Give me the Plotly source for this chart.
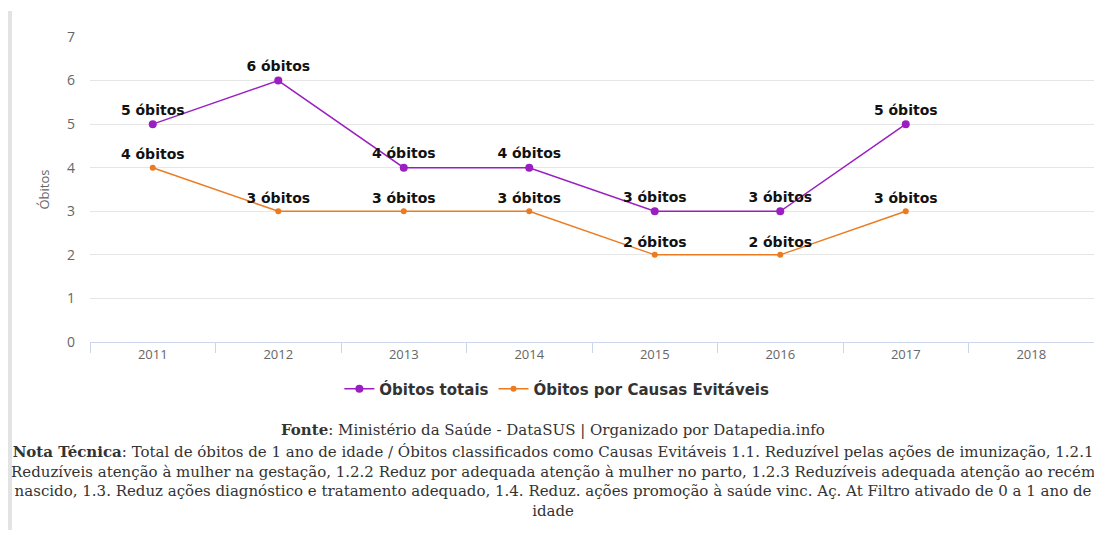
import plotly.graph_objects as go

years = ["2011", "2012", "2013", "2014", "2015", "2016", "2017", "2018"]
obitos_totais = [5, 6, 4, 4, 3, 3, 5, None]
obitos_evitaveis = [4, 3, 3, 3, 2, 2, 3, None]
y_ticks = [0, 1, 2, 3, 4, 5, 6, 7]

purple = "#9b1fc0"
orange = "#ec7a1f"

def labels(vals):
    return [f"{v} óbitos" if v is not None else "" for v in vals]

lab_font = dict(family="DejaVu Sans", size=14, color="#111", weight="bold")

fig = go.Figure()
fig.add_trace(go.Scatter(
    x=years, y=obitos_totais, name="Óbitos totais", mode="lines+markers+text",
    line=dict(color=purple, width=1.5), marker=dict(color=purple, size=8),
    text=labels(obitos_totais), textposition="top center", textfont=lab_font,
    cliponaxis=False,
))
fig.add_trace(go.Scatter(
    x=years, y=obitos_evitaveis, name="Óbitos por Causas Evitáveis", mode="lines+markers+text",
    line=dict(color=orange, width=1.5), marker=dict(color=orange, size=6),
    text=labels(obitos_evitaveis), textposition="top center", textfont=lab_font,
    cliponaxis=False,
))

fig.update_layout(
    width=1094, height=534,
    margin=dict(l=90, r=0, t=37, b=192),
    paper_bgcolor="white", plot_bgcolor="white",
    font=dict(family="Open Sans", color="#666"),
    showlegend=True,
    legend=dict(orientation="h", x=0.465, xanchor="center", y=-0.1, yanchor="top",
                font=dict(family="DejaVu Sans", size=15, color="#333", weight="bold")),
    xaxis=dict(type="category", categoryorder="array", categoryarray=years,
               range=[-0.5, 7.5], showgrid=False, showline=True, linecolor="#ccd6eb",
               ticks="outside", tickson="boundaries", ticklen=10, tickcolor="#ccd6eb",
               tickfont=dict(size=13, color="#666"), fixedrange=True),
    yaxis=dict(range=[0, 7], tickvals=y_ticks, showgrid=True, gridcolor="#e6e6e6",
               zeroline=False, tickfont=dict(size=14, color="#666"), ticklabelstandoff=14,
               title=dict(text="Óbitos", font=dict(size=13, color="#666"), standoff=14)),
)

fig.add_shape(type="rect", xref="paper", yref="paper", x0=-82/1004, x1=-78/1004,
              y0=-(530-342)/305, y1=1 + 26/305,
              fillcolor="#e3e3e3", line_width=0, layer="below")

serif = "DejaVu Serif"
fig.add_annotation(xref="paper", yref="paper", x=(553-90)/1004, y=-(430-342)/305,
                   text="<b>Fonte</b>: Ministério da Saúde - DataSUS | Organizado por Datapedia.info",
                   showarrow=False, xanchor="center", yanchor="middle",
                   font=dict(family=serif, size=15, color="#333"))
nota = ("<b>Nota Técnica</b>: Total de óbitos de 1 ano de idade / Óbitos classificados como Causas Evitáveis 1.1. Reduzível pelas ações de imunização, 1.2.1<br>"
        "Reduzíveis atenção à mulher na gestação, 1.2.2 Reduz por adequada atenção à mulher no parto, 1.2.3 Reduzíveis adequada atenção ao recém<br>"
        "nascido, 1.3. Reduz ações diagnóstico e tratamento adequado, 1.4. Reduz. ações promoção à saúde vinc. Aç. At Filtro ativado de 0 a 1 ano de<br>"
        "idade")
fig.add_annotation(xref="paper", yref="paper", x=(553-90)/1004, y=-(441-342)/305,
                   text=nota, showarrow=False, xanchor="center", yanchor="top", align="center",
                   font=dict(family=serif, size=15, color="#333"))

fig.write_html("out.html")
